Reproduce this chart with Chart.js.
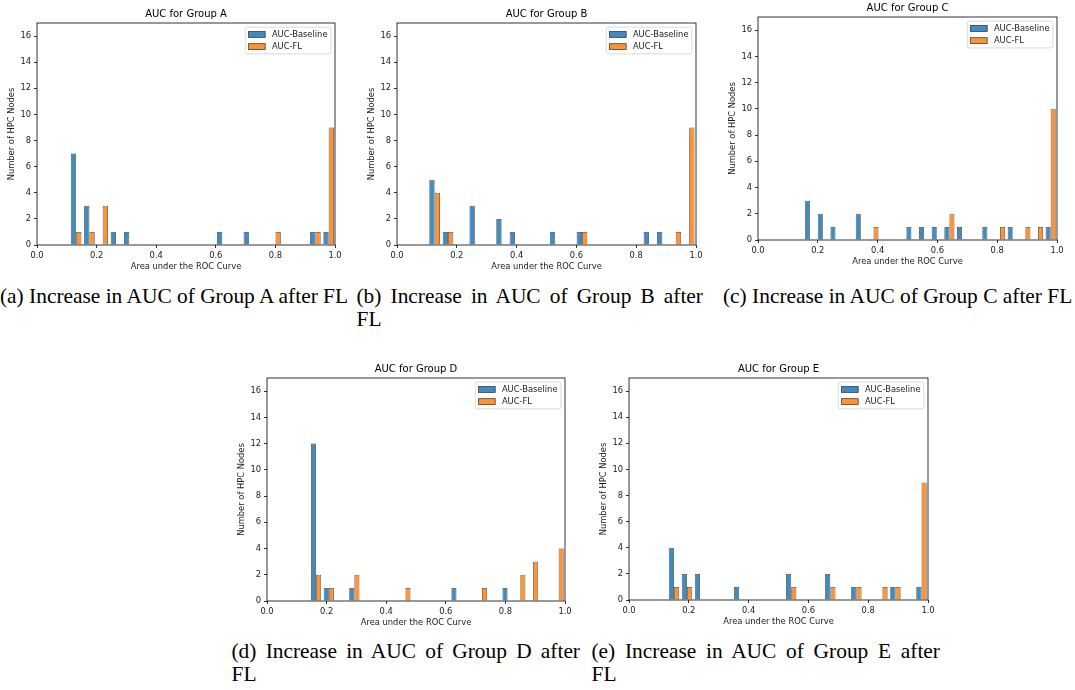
<!DOCTYPE html>
<html>
<head>
<meta charset="utf-8">
<script src="https://cdn.jsdelivr.net/npm/chart.js@4.4.1/dist/chart.umd.min.js"></script>
<style>
html,body{margin:0;padding:0;background:#fff;}
#page{position:relative;width:1075px;height:690px;overflow:hidden;background:#fff;}
.chartbox{position:absolute;}
.cap{position:absolute;font-family:"Liberation Serif","Times New Roman",serif;font-size:21.4px;line-height:23px;color:#000;white-space:nowrap;}
.cap .j{text-align:justify;text-align-last:justify;white-space:nowrap;}
</style>
</head>
<body>
<div id="page">
  <div class="chartbox" id="boxA"><canvas id="cA"></canvas></div>
  <div class="chartbox" id="boxB"><canvas id="cB"></canvas></div>
  <div class="chartbox" id="boxC"><canvas id="cC"></canvas></div>
  <div class="chartbox" id="boxD"><canvas id="cD"></canvas></div>
  <div class="chartbox" id="boxE"><canvas id="cE"></canvas></div>

  <div class="cap" style="left:0px;top:284.5px;">(a) Increase in AUC of Group A after FL</div>
  <div class="cap" style="left:356.5px;top:284.5px;width:346.5px;"><div class="j">(b) Increase in AUC of Group B after</div><div>FL</div></div>
  <div class="cap" style="left:723px;top:284.5px;">(c) Increase in AUC of Group C after FL</div>
  <div class="cap" style="left:231.5px;top:639.5px;width:348.5px;"><div class="j">(d) Increase in AUC of Group D after</div><div>FL</div></div>
  <div class="cap" style="left:591.5px;top:639.5px;width:348.5px;"><div class="j">(e) Increase in AUC of Group E after</div><div>FL</div></div>
</div>
<script>
// ---------------- DATA ----------------
const seriesLabels = ['AUC-Baseline', 'AUC-FL'];
const xTickValues = [0, 0.2, 0.4, 0.6, 0.8, 1.0];
const xTickLabels = ['0.0', '0.2', '0.4', '0.6', '0.8', '1.0'];
const yTickValues = [0, 2, 4, 6, 8, 10, 12, 14, 16];
const yTickLabels = ['0', '2', '4', '6', '8', '10', '12', '14', '16'];
const xAxisTitle = 'Area under the ROC Curve';
const yAxisTitle = 'Number of HPC Nodes';

// histogram range (min..max of AUC values) per group, 20 bins each
const rangeA = [0.109, 1.001];
const rangeB = [0.1035, 0.9995];
const rangeC = [0.1533, 1.0];
const rangeD = [0.1432, 1.0];
const rangeE = [0.1286, 1.0];

// counts per bin
const baselineA = [7, 3, 0, 1, 1, 0, 0, 0, 0, 0, 0, 1, 0, 1, 0, 0, 0, 0, 1, 1];
const flA       = [1, 1, 3, 0, 0, 0, 0, 0, 0, 0, 0, 0, 0, 0, 0, 1, 0, 0, 1, 9];
const baselineB = [5, 1, 0, 3, 0, 2, 1, 0, 0, 1, 0, 1, 0, 0, 0, 0, 1, 1, 0, 0];
const flB       = [4, 1, 0, 0, 0, 0, 0, 0, 0, 0, 0, 1, 0, 0, 0, 0, 0, 0, 1, 9];
const baselineC = [3, 2, 1, 0, 2, 0, 0, 0, 1, 1, 1, 1, 1, 0, 1, 0, 1, 0, 0, 1];
const flC       = [0, 0, 0, 0, 0, 1, 0, 0, 0, 0, 0, 2, 0, 0, 0, 1, 0, 1, 1, 10];
const baselineD = [12, 1, 0, 1, 0, 0, 0, 0, 0, 0, 0, 1, 0, 0, 0, 1, 0, 0, 0, 0];
const flD       = [2, 1, 0, 2, 0, 0, 0, 1, 0, 0, 0, 0, 0, 1, 0, 0, 2, 3, 0, 4];
const baselineE = [4, 2, 2, 0, 0, 1, 0, 0, 0, 2, 0, 0, 2, 0, 1, 0, 0, 1, 0, 1];
const flE       = [1, 1, 0, 0, 0, 0, 0, 0, 0, 1, 0, 0, 1, 0, 1, 0, 1, 1, 0, 9];

// ---------------- LAYOUT / STYLE ----------------
const FS = 8.33;
const FONT = '"DejaVu Sans", Verdana, sans-serif';
const TXT = '#1a1a1a';
const BLUE = 'rgba(31,119,180,0.85)';
const ORANGE = 'rgba(255,127,14,0.85)';
const EDGE = 'rgba(0,0,0,0.7)';
const Y_W = 45, TOP_H = 25, X_H = 30, PAD_R = 10;

const framePlugin = {
  id: 'frame',
  afterDatasetsDraw(chart) {
    const {ctx, chartArea: a} = chart;
    ctx.save();
    ctx.strokeStyle = '#000';
    ctx.lineWidth = 0.8;
    ctx.strokeRect(a.left, a.top, a.right - a.left, a.bottom - a.top);
    ctx.restore();
  }
};

const legendPlugin = {
  id: 'mplLegend',
  afterDraw(chart) {
    const {ctx, chartArea: a} = chart;
    const ds = chart.data.datasets;
    ctx.save();
    ctx.font = FS + 'px ' + FONT;
    const bp = 0.4 * FS, hl = 2 * FS, hh = 0.7 * FS, tp = 0.8 * FS, ls = 0.5 * FS, th = 7.95, ax = 0.5 * FS;
    let tw = 0;
    ds.forEach(d => { tw = Math.max(tw, ctx.measureText(d.label).width); });
    const w = 2 * bp + hl + tp + tw;
    const h = 2 * bp + ds.length * th + (ds.length - 1) * ls;
    const x0 = a.right - ax - w, y0 = a.top + ax;
    ctx.beginPath();
    ctx.roundRect(x0, y0, w, h, 2);
    ctx.fillStyle = 'rgba(255,255,255,0.8)';
    ctx.fill();
    ctx.strokeStyle = 'rgba(204,204,204,0.9)';
    ctx.lineWidth = 0.8;
    ctx.stroke();
    ds.forEach((d, i) => {
      const cy = y0 + bp + th / 2 + i * (th + ls);
      ctx.fillStyle = d.backgroundColor;
      ctx.fillRect(x0 + bp, cy - hh / 2, hl, hh);
      ctx.strokeStyle = EDGE;
      ctx.lineWidth = 0.8;
      ctx.strokeRect(x0 + bp, cy - hh / 2, hl, hh);
      ctx.fillStyle = TXT;
      ctx.textBaseline = 'middle';
      ctx.textAlign = 'left';
      ctx.fillText(d.label, x0 + bp + hl + tp, cy + 0.5);
    });
    ctx.restore();
  }
};

function binCenters(range, n) {
  const w = (range[1] - range[0]) / n;
  return Array.from({length: n}, (_, i) => range[0] + (i + 0.5) * w);
}

function makeChart(id, boxId, group, range, base, fl, plot) {
  const box = document.getElementById(boxId);
  const cw = plot.w + Y_W + PAD_R, chh = plot.h + TOP_H + X_H;
  box.style.left = (plot.l - Y_W) + 'px';
  box.style.top = (plot.t - TOP_H) + 'px';
  box.style.width = cw + 'px';
  box.style.height = chh + 'px';
  const cv = document.getElementById(id);
  cv.width = cw; cv.height = chh;
  cv.style.width = cw + 'px'; cv.style.height = chh + 'px';
  const centers = binCenters(range, base.length);
  const mk = arr => centers.map((c, i) => ({x: c, y: arr[i]}));
  new Chart(cv, {
    type: 'bar',
    data: {
      datasets: [
        {label: seriesLabels[0], data: mk(base), backgroundColor: BLUE, borderColor: EDGE, borderWidth: 0.8,
         categoryPercentage: 0.8, barPercentage: 1.0},
        {label: seriesLabels[1], data: mk(fl), backgroundColor: ORANGE, borderColor: EDGE, borderWidth: 0.8,
         categoryPercentage: 0.8, barPercentage: 1.0}
      ]
    },
    options: {
      responsive: false,
      animation: false,
      devicePixelRatio: 1,
      layout: {padding: {left: 0, top: 0, right: PAD_R, bottom: 0}},
      plugins: {
        legend: {display: false},
        tooltip: {enabled: false},
        title: {
          display: true, text: 'AUC for Group ' + group, fullSize: false,
          color: '#000', font: {family: FONT, size: 10, weight: 'normal', lineHeight: 1.2},
          padding: {top: 10, bottom: 3}
        }
      },
      scales: {
        x: {
          type: 'linear', min: 0, max: 1, offset: false,
          afterBuildTicks: s => { s.ticks = xTickValues.map(v => ({value: v})); },
          afterFit: s => { s.height = X_H; },
          ticks: {
            callback: (v, i) => xTickLabels[i], maxRotation: 0, autoSkip: false,
            color: TXT, font: {family: FONT, size: FS}, padding: 2.5
          },
          grid: {display: true, drawOnChartArea: false, drawTicks: true, tickLength: 3, offset: false,
                 tickColor: '#000', tickWidth: 0.8},
          border: {display: false},
          title: {display: true, text: xAxisTitle, color: TXT,
                  font: {family: FONT, size: FS, lineHeight: 1.2}, padding: {top: 0, bottom: 3.3}}
        },
        y: {
          type: 'linear', min: 0, max: 17,
          afterBuildTicks: s => { s.ticks = yTickValues.map(v => ({value: v})); },
          afterFit: s => { s.width = Y_W; },
          ticks: {
            callback: (v, i) => yTickLabels[i], autoSkip: false,
            color: TXT, font: {family: FONT, size: FS}, padding: 3
          },
          grid: {display: true, drawOnChartArea: false, drawTicks: true, tickLength: 3,
                 tickColor: '#000', tickWidth: 0.8},
          border: {display: false},
          title: {display: true, text: yAxisTitle, color: TXT,
                  font: {family: FONT, size: FS, lineHeight: 1.2}, padding: {top: 14.7, bottom: 0}}
        }
      }
    },
    plugins: [framePlugin, legendPlugin]
  });
}

makeChart('cA', 'boxA', 'A', rangeA, baselineA, flA, {l: 37, t: 23, w: 298, h: 222});
makeChart('cB', 'boxB', 'B', rangeB, baselineB, flB, {l: 397, t: 23, w: 299, h: 222});
makeChart('cC', 'boxC', 'C', rangeC, baselineC, flC, {l: 758, t: 17, w: 299, h: 223});
makeChart('cD', 'boxD', 'D', rangeD, baselineD, flD, {l: 267, t: 378, w: 298, h: 223});
makeChart('cE', 'boxE', 'E', rangeE, baselineE, flE, {l: 629, t: 378, w: 299, h: 222});
</script>
</body>
</html>
